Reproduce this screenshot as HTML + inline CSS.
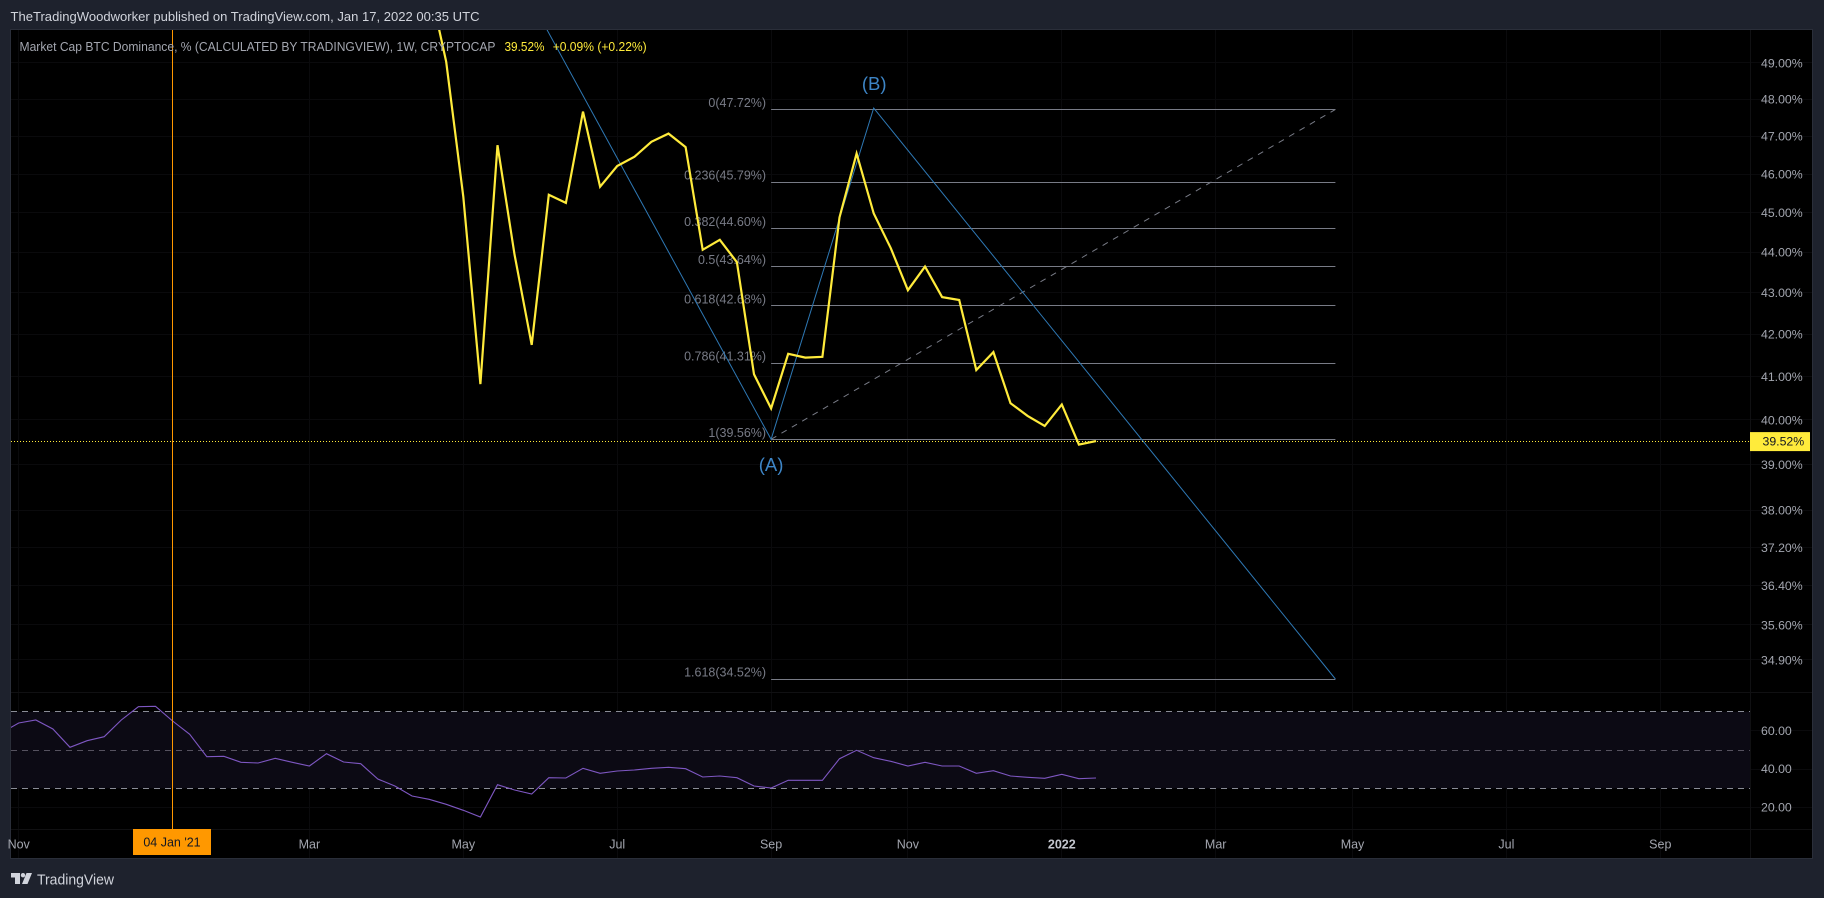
<!DOCTYPE html>
<html lang="en">
<head>
<meta charset="utf-8">
<title>Market Cap BTC Dominance chart</title>
<style>
html,body{margin:0;padding:0;background:#1e222d;width:1824px;height:898px;overflow:hidden}
svg{display:block;font-family:"Liberation Sans",sans-serif}
</style>
</head>
<body>
<svg id="chart" xmlns="http://www.w3.org/2000/svg" width="1824" height="898" viewBox="0 0 1824 898">
  <defs>
    <clipPath id="main-clip"><rect x="11" y="30" width="1739" height="662"/></clipPath>
    <clipPath id="rsi-clip"><rect x="11" y="693" width="1739" height="136"/></clipPath>
  </defs>
  <rect x="0" y="0" width="1824" height="898" fill="#1e222d"/>
  <text x="10.5" y="21" font-size="13" fill="#d1d4dc" textLength="469" lengthAdjust="spacingAndGlyphs">TheTradingWoodworker published on TradingView.com, Jan 17, 2022 00:35 UTC</text>
  <rect x="10.5" y="29.5" width="1802" height="829" fill="#000000" stroke="#2a2e39" stroke-width="1"/>
  <g id="grid"></g>
  <rect id="rsi-band" fill="#0c0a14"/>
  <g id="rsi-lines"></g>
  <line x1="1750.5" y1="30" x2="1750.5" y2="858" stroke="#101012"/>
  <line x1="11" y1="692.5" x2="1812" y2="692.5" stroke="#101012"/>
  <line x1="11" y1="829.5" x2="1812" y2="829.5" stroke="#101012"/>
  <g id="drawings" clip-path="url(#main-clip)"></g>
  <g id="series" clip-path="url(#main-clip)"></g>
  <g id="rsi-group" clip-path="url(#rsi-clip)"></g>
  <g id="axes"></g>
  <g font-size="12.5">
    <text x="19.5" y="51" fill="#a3a6af" textLength="476" lengthAdjust="spacingAndGlyphs">Market Cap BTC Dominance, % (CALCULATED BY TRADINGVIEW), 1W, CRYPTOCAP</text>
    <text x="504.5" y="51" fill="#ffeb3b" textLength="40" lengthAdjust="spacingAndGlyphs">39.52%</text>
    <text x="552.7" y="51" fill="#ffeb3b" textLength="94" lengthAdjust="spacingAndGlyphs">+0.09% (+0.22%)</text>
  </g>
  <g>
    <path fill="#d1d4dc" d="M11 873H20V884H15V877.5H11ZM26.5 873H32L27.5 884H22Z"/>
    <circle cx="23" cy="875.2" r="2.2" fill="#d1d4dc"/>
    <text x="37" y="884.5" font-size="14.5" fill="#d1d4dc" textLength="77" lengthAdjust="spacingAndGlyphs">TradingView</text>
  </g>
</svg>
<script>
// ---- chart data ----
var priceValues = [51.25,49.03,45.41,40.82,46.76,43.93,41.74,45.46,45.25,47.66,45.67,46.21,46.45,46.85,47.07,46.71,44.06,44.31,43.75,41.05,40.26,41.53,41.44,41.46,44.88,46.54,44.98,44.10,43.06,43.64,42.89,42.82,41.15,41.57,40.38,40.09,39.86,40.35,39.44,39.52];
var rsiValues = [59.05,64.1,65.67,60.97,51.39,54.87,56.96,65.67,72.63,72.8,65.14,58.18,46.52,46.69,43.56,43.21,45.65,43.56,41.64,48.08,43.73,42.86,34.86,31.2,25.98,24.24,21.63,18.5,15.0,31.9,29.11,27.02,35.55,35.38,40.43,37.82,39.03,39.56,40.43,40.95,40.25,35.9,36.42,35.55,31.2,30.16,34.16,34.16,34.16,45.47,49.83,46.0,44.08,41.64,43.56,41.64,41.64,37.82,39.21,36.42,35.73,35.2,37.3,35.03,35.38];
var priceTicks = [49,48,47,46,45,44,43,42,41,40,39,38,37.2,36.4,35.6,34.9];
var rsiTicks = [60,40,20];
var rsiBands = [70,50,30];
var timeLabels = ['Nov','Mar','May','Jul','Sep','Nov','2022','Mar','May','Jul','Sep'];
var timeBarsBack = [63,46,37,28,19,11,2,-7,-15,-24,-33];
var crosshairBarsBack = 54;
var crosshairLabel = "04 Jan '21";
var lastPrice = 39.52;
var fibLevels = ['0','0.236','0.382','0.5','0.618','0.786','1','1.618'];
var fibPrices = [47.72,45.79,44.60,43.64,42.68,41.31,39.56,34.52];
var fibStartBarsBack = 19;
var fibEndBarsBack = -14;
var wavePrices = [50.73,39.56,47.76,34.52];
var waveBarsBack = [33,19,13,-14];

// ---- axis functions ----
function barX(barsBack){ return 1096 - 17.1 * barsBack; }
function priceY(v){ return 439.3 - 1759 * Math.log(v / 39.56); }
function rsiY(v){ return 788.3 - (v - 30) * 1.915; }
function crisp(p){ return Math.floor(p) + 0.5; }

var NS = 'http://www.w3.org/2000/svg';
function make(tag, parent, props, txt){
  var e = document.createElementNS(NS, tag);
  for (var k in props) e.setAttribute(k, props[k]);
  if (txt !== undefined) e.textContent = txt;
  parent.appendChild(e);
  return e;
}
function pts(xs, ys){
  var out = [];
  for (var i = 0; i < xs.length; i++) out.push(xs[i].toFixed(1) + ',' + ys[i].toFixed(1));
  return out.join(' ');
}
var el;
var grid = document.getElementById('grid');
var axes = document.getElementById('axes');
var drawings = document.getElementById('drawings');
var series = document.getElementById('series');
var rsiGroup = document.getElementById('rsi-group');
var rsiLines = document.getElementById('rsi-lines');

// grid + axes: price ticks
priceTicks.forEach(function(v){
  var y = priceY(v);
  el = make('line', grid, {x1:11, x2:1812, y1:crisp(y), y2:crisp(y), stroke:'#0a0a0c'});
  
  
  el = make('text', axes, {x:1761, y:(y + 4.5).toFixed(1), 'font-size':12.3, fill:'#a3a6af'}, v.toFixed(2) + '%');
  
  
});
rsiTicks.forEach(function(v){
  var y = rsiY(v);
  el = make('line', grid, {x1:11, x2:1812, y1:crisp(y), y2:crisp(y), stroke:'#0a0a0c'});
  
  
  el = make('text', axes, {x:1761, y:(y + 4).toFixed(1), 'font-size':12.3, fill:'#a3a6af'}, v.toFixed(2));
  
  
});
// grid + axes: time ticks
timeLabels.forEach(function(label, i){
  var x = barX(timeBarsBack[i]);
  el = make('line', grid, {x1:crisp(x), x2:crisp(x), y1:30, y2:858, stroke:'#0a0a0c'});
  
  
  el = make('text', axes, {x:x.toFixed(1), y:848.5, 'font-size':12.5, 'text-anchor':'middle', fill: label === '2022' ? '#c3c6ce' : '#a3a6af', 'font-weight': label === '2022' ? 'bold' : 'normal'}, label);
  
  
});

// RSI band
var band = document.getElementById('rsi-band');
band.setAttribute('x', 11);
band.setAttribute('width', 1739);
band.setAttribute('y', rsiY(rsiBands[0]));
band.setAttribute('height', rsiY(rsiBands[2]) - rsiY(rsiBands[0]));
rsiBands.forEach(function(v){
  var y = crisp(rsiY(v));
  el = make('line', rsiLines, {x1:11, x2:1750, y1:y, y2:y, stroke: v === 50 ? '#56525f' : '#8a8c96', 'stroke-dasharray':'6 5'});
  
  
});

// fib extension
fibLevels.forEach(function(level, i){
  var y = priceY(fibPrices[i]);
  el = make('line', drawings, {x1:barX(fibStartBarsBack), x2:barX(fibEndBarsBack), y1:crisp(y), y2:crisp(y), stroke:'#787b86'});
  
  
  el = make('text', drawings, {x:barX(fibStartBarsBack) - 5, y:(y - 2.5).toFixed(1), 'font-size':12.5, 'text-anchor':'end', fill:'#787b86'}, level + '(' + fibPrices[i].toFixed(2) + '%)');
  
  
});
// dashed fib diagonal
el = make('line', drawings, {x1:barX(fibStartBarsBack), y1:priceY(fibPrices[6]), x2:barX(fibEndBarsBack), y2:priceY(fibPrices[0]), stroke:'#787b86', 'stroke-dasharray':'6 6'});


// wave polyline
el = make('polyline', drawings, {points:pts(waveBarsBack.map(barX), wavePrices.map(priceY)), fill:'none', stroke:'#2e78b4', 'stroke-width':1});


// wave labels
el = make('text', drawings, {x:barX(waveBarsBack[1]), y:471, 'font-size':18.5, 'text-anchor':'middle', fill:'#3d85c6'}, '(A)');


el = make('text', drawings, {x:barX(waveBarsBack[2]) + 0.5, y:90, 'font-size':18.5, 'text-anchor':'middle', fill:'#3d85c6'}, '(B)');



// last price dotted line
el = make('line', series, {x1:11, x2:1750, y1:crisp(priceY(lastPrice)), y2:crisp(priceY(lastPrice)), stroke:'#ffeb3b', 'stroke-dasharray':'1 2'});



// main series
var priceXs = priceValues.map(function(v, i){ return barX(priceValues.length - 1 - i); });
el = make('polyline', series, {points:pts(priceXs, priceValues.map(priceY)), fill:'none', stroke:'#ffeb3b', 'stroke-width':2.2, 'stroke-linejoin':'miter'});



// RSI series
var rsiXs = rsiValues.map(function(v, i){ return barX(rsiValues.length - 1 - i); });
el = make('polyline', rsiGroup, {points:pts(rsiXs, rsiValues.map(rsiY)), fill:'none', stroke:'#7e57c2', 'stroke-width':1.1});



// crosshair
var cx = crisp(barX(crosshairBarsBack));
el = make('line', axes, {x1:cx, x2:cx, y1:30, y2:829, stroke:'#ff9800', 'stroke-width':1});


el = make('rect', axes, {x:cx - 39.5, y:829, width:78, height:26, fill:'#ff9800'});


el = make('text', axes, {x:cx - 0.5, y:846.5, 'font-size':12.5, 'text-anchor':'middle', fill:'#131722'}, crosshairLabel);



// last price tag
var tagY = priceY(lastPrice);
el = make('rect', axes, {x:1750, y:(tagY - 9).toFixed(1), width:60, height:19, fill:'#ffeb3b'});


el = make('text', axes, {x:1762.5, y:(tagY + 4.5).toFixed(1), 'font-size':12.3, fill:'#131722'}, lastPrice.toFixed(2) + '%');


</script>
</body>
</html>
